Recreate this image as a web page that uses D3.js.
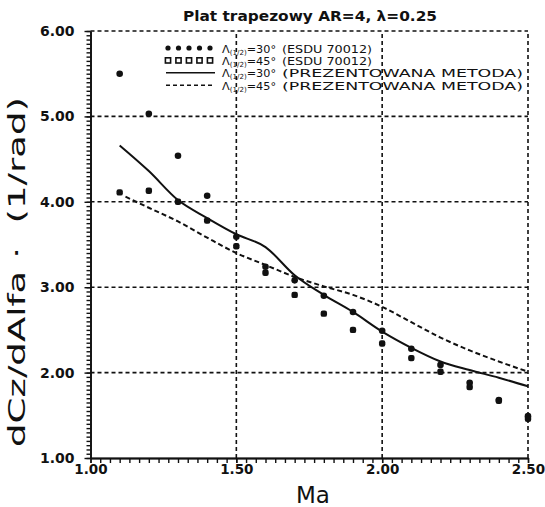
<!DOCTYPE html>
<html>
<head>
<meta charset="utf-8">
<script src="https://cdn.jsdelivr.net/npm/d3@7"></script>
<style>
  body { margin: 0; background: #fff; }
  text { font-family: "DejaVu Sans", Arial, sans-serif; fill: #111; }
</style>
</head>
<body>
<div id="chart"></div>
<script>
// data
var esduMach = [1.1, 1.2, 1.3, 1.4, 1.5, 1.6, 1.7, 1.8, 1.9, 2.0, 2.1, 2.2, 2.3, 2.4, 2.5];
var esdu30 = [5.50, 5.03, 4.54, 4.07, 3.59, 3.24, 3.08, 2.90, 2.71, 2.49, 2.28, 2.09, 1.88, 1.68, 1.49];
var esdu45 = [4.11, 4.13, 4.00, 3.78, 3.48, 3.17, 2.91, 2.69, 2.50, 2.34, 2.17, 2.01, 1.83, 1.67, 1.46];

var met30Mach = [1.1, 1.2, 1.3, 1.4, 1.5, 1.6, 1.7, 1.8, 1.9, 2.0, 2.1, 2.2, 2.3, 2.4, 2.5];
var met30 = [4.66, 4.36, 4.02, 3.81, 3.62, 3.47, 3.14, 2.91, 2.71, 2.48, 2.29, 2.13, 2.03, 1.94, 1.84];
var met45Mach = [1.12, 1.2, 1.3, 1.4, 1.5, 1.6, 1.7, 1.8, 1.9, 2.0, 2.1, 2.2, 2.3, 2.4, 2.5];
var met45 = [4.06, 3.93, 3.77, 3.58, 3.40, 3.26, 3.12, 3.01, 2.91, 2.77, 2.59, 2.41, 2.26, 2.13, 2.01];

var xTicks = [1.0, 1.5, 2.0, 2.5];
var yTicks = [1, 2, 3, 4, 5, 6];
var legendRows = [
  {sub: "=30°", src: "(ESDU  70012)", kind: "dot"},
  {sub: "=45°", src: "(ESDU  70012)", kind: "sq"},
  {sub: "=30°", src: "(PREZENTOWANA  METODA)", kind: "solid"},
  {sub: "=45°", src: "(PREZENTOWANA  METODA)", kind: "dash"}
];

var W = 545, H = 507;
var svg = d3.select("#chart").append("svg")
    .attr("width", W)
    .attr("height", H);

var x = d3.scaleLinear().domain([1, 2.5]).range([90.5, 528]);
var y = d3.scaleLinear().domain([1, 6]).range([458, 31]);

// dashed grid (also top & right border)
var grid = svg.append("g").attr("stroke", "#111").attr("stroke-width", 1.6).attr("stroke-dasharray", "4,3");
grid.selectAll(".hg").data(yTicks.slice(1)).enter().append("line")
    .attr("x1", x(1)).attr("x2", x(2.5))
    .attr("y1", function(d) { return y(d); }).attr("y2", function(d) { return y(d); });
grid.selectAll(".vg").data(xTicks.slice(1)).enter().append("line")
    .attr("y1", y(1)).attr("y2", y(6))
    .attr("x1", function(d) { return x(d); }).attr("x2", function(d) { return x(d); });

// minor ticks
var yMinor = d3.range(0, 101).map(function(i) { return 1 + i * 0.05; });
var xMinor = d3.range(0, 46).map(function(i) { return 1 + i / 30; });

svg.append("g").attr("transform", "translate(" + x(1) + ",0)")
    .call(d3.axisLeft(y).tickValues(yMinor).tickSize(4).tickSizeOuter(0).tickFormat(""))
    .call(function(g) { g.selectAll("line,path").attr("stroke", "#111").attr("stroke-width", 1.4); });
svg.append("g").attr("transform", "translate(0," + y(1) + ")")
    .call(d3.axisBottom(x).tickValues(xMinor).tickSize(5).tickSizeOuter(0).tickFormat(""))
    .call(function(g) { g.selectAll("line,path").attr("stroke", "#111").attr("stroke-width", 1.4); });

// major ticks + labels
var yAxis = svg.append("g").attr("transform", "translate(" + x(1) + ",0)")
    .call(d3.axisLeft(y).tickValues(yTicks).tickSize(6).tickSizeOuter(0).tickFormat(d3.format(".2f")));
yAxis.select(".domain").attr("stroke", "#111").attr("stroke-width", 1.8);
yAxis.selectAll("line").attr("stroke", "#111").attr("stroke-width", 1.4);
yAxis.selectAll("text").attr("font-size", 14).attr("font-weight", "bold").attr("x", -16);

var xAxis = svg.append("g").attr("transform", "translate(0," + y(1) + ")")
    .call(d3.axisBottom(x).tickValues(xTicks).tickSize(5).tickSizeOuter(0).tickFormat(d3.format(".2f")));
xAxis.select(".domain").attr("stroke", "#111").attr("stroke-width", 1.8);
xAxis.selectAll("line").attr("stroke", "#111").attr("stroke-width", 1.4);
xAxis.selectAll("text").attr("font-size", 13.5).attr("font-weight", "bold").attr("y", 6);

// method lines
var line = d3.line().curve(d3.curveMonotoneX);
var pts30 = met30Mach.map(function(m, i) { return [x(m), y(met30[i])]; });
var pts45 = met45Mach.map(function(m, i) { return [x(m), y(met45[i])]; });
svg.append("path").attr("d", line(pts30))
    .attr("fill", "none").attr("stroke", "#111").attr("stroke-width", 2);
svg.append("path").attr("d", line(pts45))
    .attr("fill", "none").attr("stroke", "#111").attr("stroke-width", 2).attr("stroke-dasharray", "5,3");

// ESDU points
svg.append("g").selectAll("circle").data(esduMach).enter().append("circle")
    .attr("cx", function(d) { return x(d); })
    .attr("cy", function(d, i) { return y(esdu30[i]); })
    .attr("r", 3.3).attr("fill", "#111");
svg.append("g").selectAll("rect").data(esduMach).enter().append("rect")
    .attr("x", function(d) { return x(d) - 3.2; })
    .attr("y", function(d, i) { return y(esdu45[i]) - 3.2; })
    .attr("width", 6.4).attr("height", 6.4).attr("rx", 2.2)
    .attr("fill", "#111");

// title
svg.append("text").attr("x", 310).attr("y", 21).attr("text-anchor", "middle")
    .attr("font-size", 14).attr("font-weight", "bold")
    .attr("textLength", 254).attr("lengthAdjust", "spacingAndGlyphs")
    .text("Plat trapezowy AR=4, λ=0.25");

// legend
var leg = svg.append("g");
legendRows.forEach(function(r, i) {
  var ly = 48 + i * 12.4;
  var g = leg.append("g");
  if (r.kind == "dot" || r.kind == "sq") {
    d3.range(5).forEach(function(k) {
      var cx = 168 + k * 10.5;
      if (r.kind == "dot") {
        g.append("circle").attr("cx", cx).attr("cy", ly).attr("r", 2.6).attr("fill", "#111");
      } else {
        g.append("rect").attr("x", cx - 2.6).attr("y", ly - 2.6).attr("width", 5.2).attr("height", 5.2)
          .attr("fill", "#fff").attr("stroke", "#111").attr("stroke-width", 1.6);
      }
    });
  } else {
    g.append("line").attr("x1", 166).attr("x2", 215).attr("y1", ly).attr("y2", ly)
      .attr("stroke", "#111").attr("stroke-width", 1.6)
      .attr("stroke-dasharray", r.kind == "dash" ? "4,3" : null);
  }
  var t = g.append("text").attr("x", 222).attr("y", ly + 4.5).attr("font-size", 11)
    .attr("textLength", 54).attr("lengthAdjust", "spacingAndGlyphs");
  t.append("tspan").text("Λ");
  t.append("tspan").attr("font-size", 7).attr("dy", 2).text("(1/2)");
  t.append("tspan").attr("dy", -2).text(r.sub);
  g.append("text").attr("x", 282).attr("y", ly + 4.5).attr("font-size", 11)
    .attr("textLength", r.kind == "dot" || r.kind == "sq" ? 90 : 241)
    .attr("lengthAdjust", "spacingAndGlyphs")
    .text(r.src);
});

// axis titles
svg.append("text").attr("x", 313).attr("y", 503).attr("text-anchor", "middle")
    .attr("font-size", 23).text("Ma");
svg.append("text").attr("transform", "translate(25," + 272 + ") rotate(-90)")
    .attr("text-anchor", "middle").attr("font-size", 23)
    .attr("textLength", 350).attr("lengthAdjust", "spacingAndGlyphs")
    .attr("xml:space", "preserve")
    .text("dCz/dAlfa ·  (1/rad)");
</script>
</body>
</html>
